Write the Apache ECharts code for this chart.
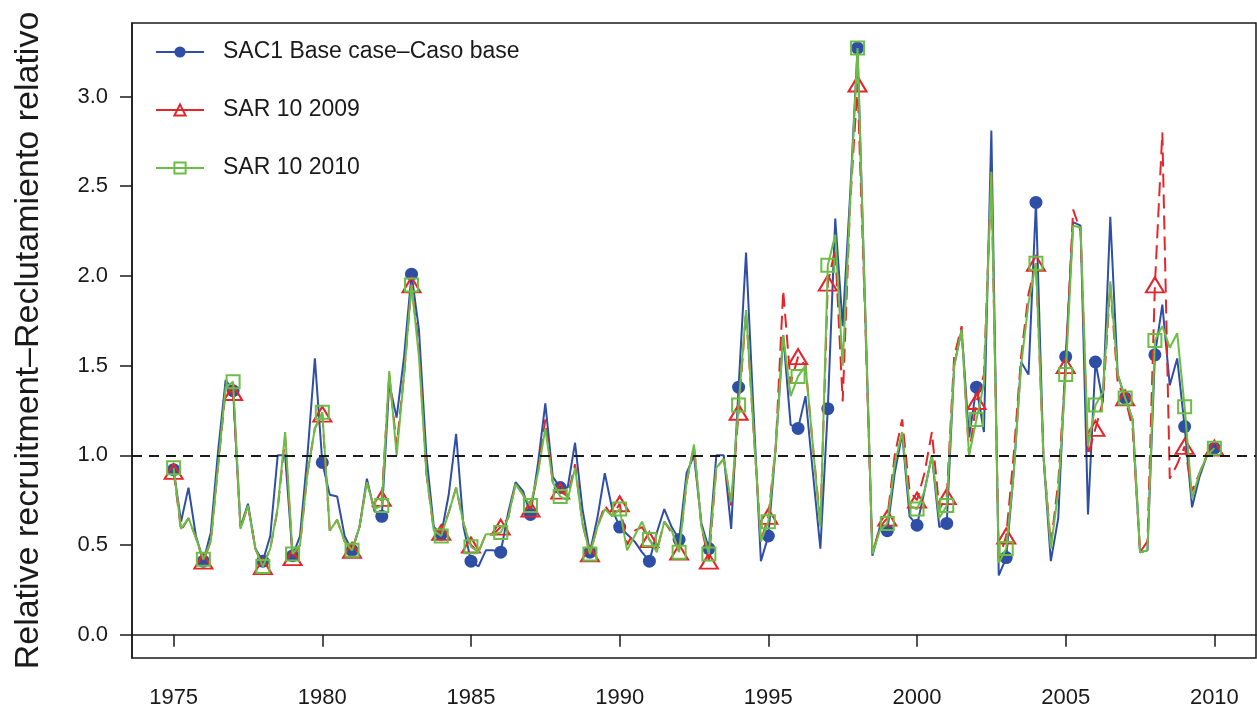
<!DOCTYPE html>
<html>
<head>
<meta charset="utf-8">
<title>Relative recruitment</title>
<script src="https://cdn.jsdelivr.net/npm/echarts@6/dist/echarts.min.js"></script>
<style>
  html, body { margin: 0; padding: 0; background: #fff; }
  #chart { width: 1257px; height: 709px; }
</style>
</head>
<body>
<div id="chart"></div>
<script>
// quarterly series, one row per year (Q1..Q4), last value is 2010 Q1
let startYear = 1975;
let yearTicks = [1975, 1980, 1985, 1990, 1995, 2000, 2005, 2010];
let valueTicks = [0, 0.5, 1, 1.5, 2, 2.5, 3];
let seriesNames = ['SAC1 Base case\u2013Caso base', 'SAR 10 2009', 'SAR 10 2010'];

let baseCase = [
  0.92, 0.63, 0.82, 0.55,
  0.41, 0.57, 1.03, 1.42,
  1.36, 0.60, 0.73, 0.48,
  0.41, 0.55, 1.00, 1.00,
  0.44, 0.55, 1.00, 1.54,
  0.96, 0.78, 0.77, 0.55,
  0.47, 0.60, 0.87, 0.69,
  0.66, 1.40, 1.21, 1.55,
  2.01, 1.70, 1.00, 0.60,
  0.56, 0.78, 1.12, 0.60,
  0.41, 0.38, 0.47, 0.47,
  0.46, 0.68, 0.85, 0.80,
  0.67, 0.95, 1.29, 0.88,
  0.82, 0.82, 1.07, 0.70,
  0.46, 0.65, 0.90, 0.70,
  0.60, 0.56, 0.52, 0.46,
  0.41, 0.57, 0.70, 0.60,
  0.53, 0.90, 1.00, 0.62,
  0.48, 1.00, 1.00, 0.59,
  1.38, 2.13, 1.25, 0.41,
  0.55, 1.05, 1.67, 1.17,
  1.15, 1.33, 0.90, 0.48,
  1.26, 2.32, 1.72, 2.45,
  3.27, 1.85, 0.44, 0.60,
  0.58, 0.90, 1.12, 0.66,
  0.61, 0.80, 1.00, 0.60,
  0.62, 1.50, 1.70, 1.10,
  1.38, 1.13, 2.81, 0.33,
  0.43, 0.90, 1.52, 1.45,
  2.41, 1.00, 0.41, 0.65,
  1.55, 2.30, 2.28, 0.67,
  1.52, 1.30, 2.33, 1.45,
  1.32, 1.20, 0.46, 0.47,
  1.56, 1.84, 1.39, 1.54,
  1.16, 0.71, 0.88, 1.00,
  1.04
];

let sar2009 = [
  0.91, 0.58, 0.65, 0.54,
  0.41, 0.52, 0.95, 1.36,
  1.35, 0.59, 0.72, 0.48,
  0.38, 0.48, 0.70, 1.10,
  0.43, 0.50, 0.90, 1.15,
  1.23, 0.58, 0.64, 0.52,
  0.47, 0.60, 0.85, 0.70,
  0.76, 1.45, 1.05, 1.45,
  1.95, 1.60, 0.90, 0.58,
  0.57, 0.68, 0.82, 0.62,
  0.50, 0.46, 0.56, 0.56,
  0.60, 0.65, 0.84, 0.78,
  0.70, 0.90, 1.20, 0.85,
  0.80, 0.77, 0.95, 0.62,
  0.45, 0.60, 0.72, 0.66,
  0.73, 0.50, 0.58, 0.60,
  0.53, 0.47, 0.63, 0.57,
  0.46, 0.85, 1.05, 0.60,
  0.41, 0.93, 0.98, 0.72,
  1.24, 1.80, 1.15, 0.52,
  0.66, 1.05, 1.92, 1.40,
  1.55, 1.50, 1.05, 0.62,
  1.96, 2.15, 1.30, 2.40,
  3.07, 1.80, 0.45, 0.60,
  0.65, 1.00, 1.20, 0.80,
  0.75, 0.90, 1.13, 0.70,
  0.77, 1.55, 1.72, 1.00,
  1.30, 1.45, 2.58, 0.42,
  0.55, 1.00, 1.55, 1.90,
  2.07, 1.00, 0.50, 0.85,
  1.50, 2.37, 2.25, 1.00,
  1.15, 1.30, 1.95, 1.40,
  1.32, 1.15, 0.46, 0.52,
  1.95, 2.80, 0.87, 0.95,
  1.05, 0.80, 0.90, 1.00,
  1.04
];

let sar2010 = [
  0.93, 0.59, 0.65, 0.54,
  0.42, 0.52, 0.95, 1.38,
  1.41, 0.59, 0.72, 0.48,
  0.38, 0.48, 0.71, 1.13,
  0.45, 0.50, 0.90, 1.15,
  1.24, 0.58, 0.64, 0.52,
  0.47, 0.60, 0.85, 0.70,
  0.72, 1.47, 1.00, 1.45,
  1.95, 1.55, 0.90, 0.58,
  0.55, 0.68, 0.82, 0.62,
  0.49, 0.46, 0.56, 0.56,
  0.57, 0.65, 0.84, 0.78,
  0.72, 0.90, 1.15, 0.85,
  0.77, 0.75, 0.93, 0.62,
  0.45, 0.60, 0.70, 0.66,
  0.70, 0.47, 0.55, 0.63,
  0.53, 0.46, 0.63, 0.58,
  0.46, 0.85, 1.06, 0.60,
  0.45, 0.93, 0.98, 0.74,
  1.28, 1.81, 1.15, 0.52,
  0.63, 1.05, 1.67, 1.33,
  1.44, 1.50, 1.05, 0.60,
  2.06, 2.23, 1.50, 2.40,
  3.27, 1.85, 0.45, 0.58,
  0.62, 0.95, 1.13, 0.72,
  0.70, 0.80, 1.00, 0.65,
  0.72, 1.50, 1.70, 1.00,
  1.20, 1.40, 2.58, 0.40,
  0.48, 0.90, 1.50, 1.85,
  2.07, 1.00, 0.48, 0.80,
  1.45, 2.28, 2.27, 1.05,
  1.28, 1.35, 1.97, 1.45,
  1.32, 1.20, 0.46, 0.47,
  1.64, 1.72, 1.60, 1.68,
  1.27, 0.76, 0.90, 1.00,
  1.04
];

let blue = '#2f4fa6';
let red = '#e3262b';
let green = '#6cbd45';
let ink = '#1a1a1a';
let font = '"Liberation Sans", Arial, sans-serif';

// markers only on the first quarter of each year
function toPoints(values) {
  return values.map(function (v, i) {
    let t = startYear + i / 4;
    if (i % 4 === 0) return [t, v];
    return { value: [t, v], symbol: 'none' };
  });
}

let chart = echarts.init(document.getElementById('chart'), null, { renderer: 'canvas' });

chart.setOption({
  animation: false,
  backgroundColor: '#fff',
  textStyle: { fontFamily: font },
  grid: {
    left: 132, top: 23, right: 1, bottom: 50,
    show: true, borderColor: ink, borderWidth: 1.5
  },
  legend: {
    orient: 'vertical',
    left: 155, top: 40,
    padding: 0,
    itemWidth: 48, itemHeight: 14, itemGap: 34,
    textStyle: { fontSize: 23, color: ink, lineHeight: 24, padding: [0, 0, 0, 14] },
    data: [
      { name: seriesNames[0] },
      { name: seriesNames[1], lineStyle: { type: 'solid' } },
      { name: seriesNames[2] }
    ]
  },
  xAxis: {
    type: 'value',
    min: 1973.6, max: 2011.4,
    axisLine: { show: true, lineStyle: { color: ink, width: 1.5 } },
    axisTick: { show: true, customValues: yearTicks, length: 12, lineStyle: { color: ink, width: 1.5 } },
    axisLabel: { customValues: yearTicks, fontSize: 22, color: ink, margin: 29, formatter: function (v) { return String(v); } },
    splitLine: { show: false }
  },
  yAxis: {
    type: 'value',
    min: -0.13, max: 3.41,
    name: 'Relative recruitment\u2013Reclutamiento relativo',
    nameLocation: 'middle',
    nameRotate: 90,
    nameGap: 86,
    nameTextStyle: { fontSize: 34, color: ink },
    axisLine: { show: true, lineStyle: { color: ink, width: 1.5 } },
    axisTick: { show: true, customValues: valueTicks, length: 12, lineStyle: { color: ink, width: 1.5 } },
    axisLabel: { customValues: valueTicks, fontSize: 22, color: ink, margin: 24, formatter: function (v) { return v.toFixed(1); } },
    splitLine: { show: false }
  },
  series: [
    {
      name: seriesNames[0],
      type: 'line',
      z: 2,
      data: toPoints(baseCase),
      symbol: 'circle',
      symbolSize: 13,
      showAllSymbol: true,
      color: blue,
      itemStyle: { color: blue },
      lineStyle: { color: blue, width: 2 },
      markLine: {
        silent: true,
        symbol: 'none',
        label: { show: false },
        lineStyle: { color: ink, width: 2, type: [10, 7] },
        data: [{ yAxis: 1 }]
      }
    },
    {
      name: seriesNames[1],
      type: 'line',
      z: 3,
      data: toPoints(sar2009),
      symbol: 'triangle',
      symbolSize: [18, 15],
      showAllSymbol: true,
      color: red,
      itemStyle: { color: 'rgba(255,255,255,0)', borderColor: red, borderWidth: 2 },
      lineStyle: { color: red, width: 2, type: [14, 7] }
    },
    {
      name: seriesNames[2],
      type: 'line',
      z: 4,
      data: toPoints(sar2010),
      symbol: 'rect',
      symbolSize: 13,
      showAllSymbol: true,
      color: green,
      itemStyle: { color: 'rgba(255,255,255,0)', borderColor: green, borderWidth: 2 },
      lineStyle: { color: green, width: 2 }
    }
  ]
});
</script>
</body>
</html>
